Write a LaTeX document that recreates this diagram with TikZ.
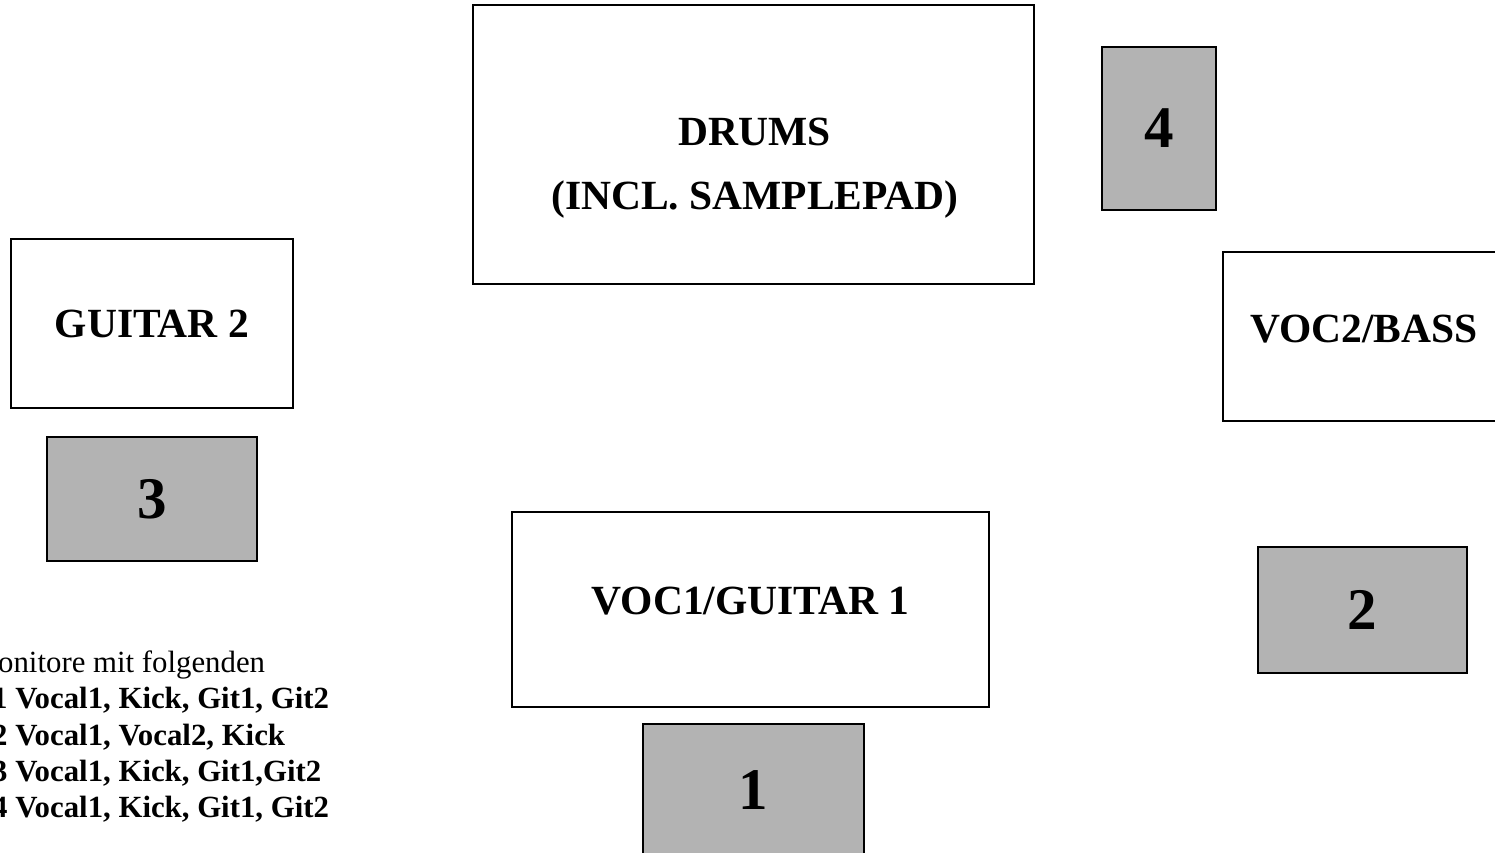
\documentclass[tikz,border=0pt]{standalone}
\usepackage{fontspec}
\setmainfont{Liberation Serif}
\definecolor{monfill}{RGB}{179,179,179}
\tikzset{stage/.style={rectangle,draw=black,fill=white,line width=1.2pt,inner sep=0pt,font=\bfseries\fontsize{41.5}{64}\selectfont}}
\tikzset{monitor/.style={rectangle,draw=black,fill=monfill,line width=1.2pt,inner sep=0pt,font=\bfseries\fontsize{59}{70}\selectfont}}
\tikzset{note/.style={anchor=base west,inner sep=0pt,font=\fontsize{30.8}{36.3}\selectfont}}

\begin{document}
\begin{tikzpicture}[x=1pt,y=-1pt]
\useasboundingbox (0,0) rectangle (1495,852);
\clip (0,0) rectangle (1495,852);
% stage boxes
\node (drums) [stage, minimum width=561pt, minimum height=279pt] at (753.5,144.5) {};
\node (drumslabel) [stage, draw=none, fill=none, align=center] at (755,168) {DRUMS\\(INCL. SAMPLEPAD)};
\node (guitar2) [stage, minimum width=282pt, minimum height=169pt] at (152,323.5) {GUITAR 2};
\node (voc2) [stage, minimum width=282pt, minimum height=169pt, text depth=16pt] at (1364,336.5) {VOC2/BASS};
\node (voc1) [stage, minimum width=477pt, minimum height=195pt, text depth=18pt] at (750.5,609.5) {VOC1/GUITAR 1};
% monitors
\node (mon1) [monitor, minimum width=221pt, minimum height=132pt] at (753.5,790) {1};
\node (mon2) [monitor, minimum width=209pt, minimum height=126pt] at (1362.5,610) {2};
\node (mon3) [monitor, minimum width=210pt, minimum height=124pt] at (152,499) {3};
\node (mon4) [monitor, minimum width=114pt, minimum height=163pt] at (1159,128.5) {4};
% monitor mixes
\node (mixhead) [note] at (-29.4,672) {Monitore mit folgenden};
\node (mix1) [note, font=\bfseries\fontsize{30.8}{36.3}\selectfont] at (-8,708.5) {1 Vocal1, Kick, Git1, Git2};
\node (mix2) [note, font=\bfseries\fontsize{30.8}{36.3}\selectfont] at (-8,745) {2 Vocal1, Vocal2, Kick};
\node (mix3) [note, font=\bfseries\fontsize{30.8}{36.3}\selectfont] at (-8,781) {3 Vocal1, Kick, Git1,Git2};
\node (mix4) [note, font=\bfseries\fontsize{30.8}{36.3}\selectfont] at (-8,817) {4 Vocal1, Kick, Git1, Git2};
\end{tikzpicture}
\end{document}
